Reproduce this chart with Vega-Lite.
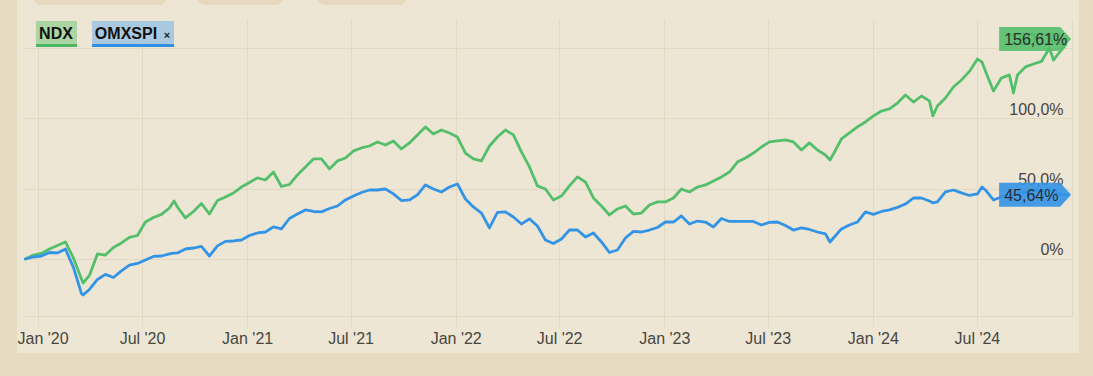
{
  "$schema": "https://vega.github.io/schema/vega-lite/v6.json",
  "width": 1048,
  "height": 296,
  "autosize": {"type": "none"},
  "padding": {"left": 24, "top": 20, "right": 21, "bottom": 60},
  "background": "#eee6d4",
  "config": {
    "view": {"stroke": null},
    "font": "Liberation Sans"
  },
  "datasets": {
    "series": [
      {"d":"2019-12-10","NDX":0,"OMXSPI":0},
      {"d":"2019-12-24","NDX":2.8,"OMXSPI":1.4},
      {"d":"2020-01-07","NDX":3.9,"OMXSPI":2.1},
      {"d":"2020-01-21","NDX":7.1,"OMXSPI":4.6},
      {"d":"2020-02-04","NDX":9.6,"OMXSPI":4.3},
      {"d":"2020-02-18","NDX":12.1,"OMXSPI":7.1},
      {"d":"2020-03-03","NDX":0.7,"OMXSPI":-6.0},
      {"d":"2020-03-17","NDX":-14.2,"OMXSPI":-24.6},
      {"d":"2020-03-20","NDX":-17.1,"OMXSPI":-25.6},
      {"d":"2020-03-31","NDX":-11.7,"OMXSPI":-21.7},
      {"d":"2020-04-14","NDX":3.6,"OMXSPI":-14.6},
      {"d":"2020-04-28","NDX":2.8,"OMXSPI":-11.0},
      {"d":"2020-05-12","NDX":8.2,"OMXSPI":-13.2},
      {"d":"2020-05-26","NDX":11.4,"OMXSPI":-8.5},
      {"d":"2020-06-09","NDX":15.3,"OMXSPI":-4.3},
      {"d":"2020-06-23","NDX":16.7,"OMXSPI":-3.2},
      {"d":"2020-07-07","NDX":26.3,"OMXSPI":-0.7},
      {"d":"2020-07-21","NDX":29.5,"OMXSPI":1.8},
      {"d":"2020-08-04","NDX":31.7,"OMXSPI":2.1},
      {"d":"2020-08-18","NDX":36.3,"OMXSPI":3.6},
      {"d":"2020-08-26","NDX":41.3,"OMXSPI":4.1},
      {"d":"2020-09-01","NDX":37.0,"OMXSPI":4.3},
      {"d":"2020-09-15","NDX":29.2,"OMXSPI":7.1},
      {"d":"2020-09-29","NDX":33.8,"OMXSPI":7.8},
      {"d":"2020-10-13","NDX":39.5,"OMXSPI":8.9},
      {"d":"2020-10-27","NDX":32.0,"OMXSPI":2.1},
      {"d":"2020-11-10","NDX":41.6,"OMXSPI":9.3},
      {"d":"2020-11-24","NDX":44.1,"OMXSPI":12.5},
      {"d":"2020-12-08","NDX":47.0,"OMXSPI":12.8},
      {"d":"2020-12-22","NDX":51.2,"OMXSPI":13.5},
      {"d":"2021-01-05","NDX":54.4,"OMXSPI":16.7},
      {"d":"2021-01-19","NDX":57.7,"OMXSPI":18.5},
      {"d":"2021-02-02","NDX":56.2,"OMXSPI":19.2},
      {"d":"2021-02-16","NDX":61.9,"OMXSPI":22.8},
      {"d":"2021-03-02","NDX":51.6,"OMXSPI":21.4},
      {"d":"2021-03-16","NDX":53.0,"OMXSPI":28.8},
      {"d":"2021-03-30","NDX":59.8,"OMXSPI":32.0},
      {"d":"2021-04-13","NDX":65.5,"OMXSPI":34.9},
      {"d":"2021-04-27","NDX":71.2,"OMXSPI":33.8},
      {"d":"2021-05-11","NDX":71.2,"OMXSPI":33.5},
      {"d":"2021-05-25","NDX":64.1,"OMXSPI":35.9},
      {"d":"2021-06-08","NDX":69.8,"OMXSPI":37.7},
      {"d":"2021-06-22","NDX":71.9,"OMXSPI":42.0},
      {"d":"2021-07-06","NDX":76.9,"OMXSPI":44.8},
      {"d":"2021-07-20","NDX":79.0,"OMXSPI":47.3},
      {"d":"2021-08-03","NDX":80.4,"OMXSPI":49.1},
      {"d":"2021-08-17","NDX":83.3,"OMXSPI":49.1},
      {"d":"2021-08-31","NDX":81.1,"OMXSPI":49.8},
      {"d":"2021-09-14","NDX":84.0,"OMXSPI":46.3},
      {"d":"2021-09-28","NDX":78.3,"OMXSPI":41.6},
      {"d":"2021-10-12","NDX":82.6,"OMXSPI":42.0},
      {"d":"2021-10-26","NDX":88.3,"OMXSPI":45.6},
      {"d":"2021-11-09","NDX":94.0,"OMXSPI":52.7},
      {"d":"2021-11-23","NDX":89.0,"OMXSPI":49.8},
      {"d":"2021-12-07","NDX":91.8,"OMXSPI":47.7},
      {"d":"2021-12-21","NDX":89.7,"OMXSPI":51.2},
      {"d":"2022-01-04","NDX":86.8,"OMXSPI":53.4},
      {"d":"2022-01-18","NDX":75.4,"OMXSPI":42.7},
      {"d":"2022-02-01","NDX":71.2,"OMXSPI":37.0},
      {"d":"2022-02-15","NDX":69.8,"OMXSPI":32.7},
      {"d":"2022-03-01","NDX":80.4,"OMXSPI":22.1},
      {"d":"2022-03-15","NDX":86.8,"OMXSPI":33.1},
      {"d":"2022-03-29","NDX":91.8,"OMXSPI":33.5},
      {"d":"2022-04-12","NDX":88.3,"OMXSPI":29.9},
      {"d":"2022-04-26","NDX":76.2,"OMXSPI":24.9},
      {"d":"2022-05-10","NDX":65.5,"OMXSPI":28.5},
      {"d":"2022-05-24","NDX":52.0,"OMXSPI":23.5},
      {"d":"2022-06-07","NDX":49.8,"OMXSPI":13.5},
      {"d":"2022-06-21","NDX":42.0,"OMXSPI":11.0},
      {"d":"2022-07-05","NDX":44.8,"OMXSPI":14.2},
      {"d":"2022-07-19","NDX":52.0,"OMXSPI":20.6},
      {"d":"2022-08-02","NDX":58.4,"OMXSPI":20.6},
      {"d":"2022-08-16","NDX":54.8,"OMXSPI":15.7},
      {"d":"2022-08-30","NDX":43.4,"OMXSPI":18.5},
      {"d":"2022-09-13","NDX":37.7,"OMXSPI":12.1},
      {"d":"2022-09-27","NDX":31.3,"OMXSPI":4.6},
      {"d":"2022-10-11","NDX":35.6,"OMXSPI":6.4},
      {"d":"2022-10-25","NDX":37.7,"OMXSPI":14.9},
      {"d":"2022-11-08","NDX":32.0,"OMXSPI":19.6},
      {"d":"2022-11-22","NDX":32.7,"OMXSPI":19.2},
      {"d":"2022-12-06","NDX":38.4,"OMXSPI":20.6},
      {"d":"2022-12-20","NDX":40.6,"OMXSPI":22.4},
      {"d":"2023-01-03","NDX":40.6,"OMXSPI":26.3},
      {"d":"2023-01-17","NDX":43.4,"OMXSPI":26.3},
      {"d":"2023-01-31","NDX":49.8,"OMXSPI":30.6},
      {"d":"2023-02-14","NDX":47.7,"OMXSPI":24.9},
      {"d":"2023-02-28","NDX":51.2,"OMXSPI":27.0},
      {"d":"2023-03-14","NDX":52.7,"OMXSPI":26.3},
      {"d":"2023-03-28","NDX":55.5,"OMXSPI":22.8},
      {"d":"2023-04-11","NDX":58.4,"OMXSPI":28.8},
      {"d":"2023-04-25","NDX":61.9,"OMXSPI":26.7},
      {"d":"2023-05-09","NDX":69.0,"OMXSPI":26.7},
      {"d":"2023-05-23","NDX":71.9,"OMXSPI":26.7},
      {"d":"2023-06-06","NDX":75.4,"OMXSPI":26.7},
      {"d":"2023-06-20","NDX":79.7,"OMXSPI":24.2},
      {"d":"2023-07-04","NDX":83.3,"OMXSPI":26.0},
      {"d":"2023-07-18","NDX":84.0,"OMXSPI":26.3},
      {"d":"2023-08-01","NDX":84.7,"OMXSPI":23.8},
      {"d":"2023-08-15","NDX":83.3,"OMXSPI":20.6},
      {"d":"2023-08-29","NDX":77.6,"OMXSPI":22.1},
      {"d":"2023-09-12","NDX":82.6,"OMXSPI":21.0},
      {"d":"2023-09-26","NDX":77.6,"OMXSPI":19.2},
      {"d":"2023-10-10","NDX":74.0,"OMXSPI":17.8},
      {"d":"2023-10-18","NDX":70.5,"OMXSPI":12.1},
      {"d":"2023-10-24","NDX":74.7,"OMXSPI":14.9},
      {"d":"2023-11-07","NDX":85.4,"OMXSPI":21.4},
      {"d":"2023-11-21","NDX":89.7,"OMXSPI":24.2},
      {"d":"2023-12-05","NDX":94.0,"OMXSPI":26.3},
      {"d":"2023-12-19","NDX":97.5,"OMXSPI":33.5},
      {"d":"2024-01-02","NDX":101.8,"OMXSPI":31.7},
      {"d":"2024-01-16","NDX":105.3,"OMXSPI":33.8},
      {"d":"2024-01-30","NDX":106.8,"OMXSPI":34.9},
      {"d":"2024-02-13","NDX":111.0,"OMXSPI":36.7},
      {"d":"2024-02-27","NDX":116.7,"OMXSPI":39.1},
      {"d":"2024-03-12","NDX":111.7,"OMXSPI":43.4},
      {"d":"2024-03-26","NDX":116.0,"OMXSPI":43.4},
      {"d":"2024-04-09","NDX":112.5,"OMXSPI":41.3},
      {"d":"2024-04-15","NDX":101.8,"OMXSPI":39.9},
      {"d":"2024-04-23","NDX":108.9,"OMXSPI":40.6},
      {"d":"2024-05-07","NDX":114.6,"OMXSPI":47.7},
      {"d":"2024-05-21","NDX":122.4,"OMXSPI":49.1},
      {"d":"2024-06-04","NDX":127.4,"OMXSPI":47.0},
      {"d":"2024-06-18","NDX":133.5,"OMXSPI":45.2},
      {"d":"2024-07-02","NDX":142.3,"OMXSPI":46.3},
      {"d":"2024-07-10","NDX":140.2,"OMXSPI":51.2},
      {"d":"2024-07-16","NDX":133.8,"OMXSPI":49.1},
      {"d":"2024-07-30","NDX":119.6,"OMXSPI":42.0},
      {"d":"2024-08-13","NDX":128.8,"OMXSPI":44.1},
      {"d":"2024-08-27","NDX":131.0,"OMXSPI":45.6},
      {"d":"2024-09-03","NDX":118.1,"OMXSPI":45.8},
      {"d":"2024-09-10","NDX":131.0,"OMXSPI":46.3},
      {"d":"2024-09-24","NDX":136.7,"OMXSPI":47.7},
      {"d":"2024-10-08","NDX":138.8,"OMXSPI":49.1},
      {"d":"2024-10-22","NDX":140.6,"OMXSPI":48.4},
      {"d":"2024-11-05","NDX":150.2,"OMXSPI":49.8},
      {"d":"2024-11-12","NDX":141.6,"OMXSPI":48.0},
      {"d":"2024-11-19","NDX":145.2,"OMXSPI":46.3},
      {"d":"2024-12-03","NDX":152.3,"OMXSPI":45.6},
      {"d":"2024-12-06","NDX":156.61,"OMXSPI":45.64}
    ],
    "last": [
      {"d":"2024-12-06","s":"NDX","v":156.61,"lab":"156,61%"},
      {"d":"2024-12-06","s":"OMXSPI","v":45.64,"lab":"45,64%"}
    ],
    "one": [{}]
  },
  "layer": [
    {
      "data": {"name": "one"},
      "mark": {"type": "rect", "clip": false, "color": "#e7dbc1"},
      "encoding": {
        "x": {"datum": {"year": 2019, "month": 6, "date": 1, "utc": true}, "type": "temporal"},
        "x2": {"datum": {"year": 2019, "month": 11, "date": 25, "hours": 6, "utc": true}},
        "y": {"datum": -200, "type": "quantitative"},
        "y2": {"datum": 300}
      }
    },
    {
      "data": {"name": "one"},
      "mark": {"type": "rect", "clip": false, "color": "#e7dbc1"},
      "encoding": {
        "x": {"datum": {"year": 2024, "month": 12, "date": 26, "hours": 18, "utc": true}, "type": "temporal"},
        "x2": {"datum": {"year": 2025, "month": 6, "date": 1, "utc": true}},
        "y": {"datum": -200, "type": "quantitative"},
        "y2": {"datum": 300}
      }
    },
    {
      "data": {"name": "one"},
      "mark": {"type": "rect", "clip": false, "color": "#e7dbc1"},
      "encoding": {
        "x": {"datum": {"year": 2019, "month": 6, "date": 1, "utc": true}, "type": "temporal"},
        "x2": {"datum": {"year": 2025, "month": 6, "date": 1, "utc": true}},
        "y": {"datum": -66.9, "type": "quantitative"},
        "y2": {"datum": -200}
      }
    },
    {
      "data": {"name": "one"},
      "mark": {"type": "rect", "clip": false, "color": "#e6d9be", "cornerRadius": 8},
      "encoding": {
        "x": {"datum": {"year": 2019, "month": 12, "date": 23, "hours": 6, "utc": true}, "type": "temporal"},
        "x2": {"datum": {"year": 2020, "month": 8, "date": 13, "hours": 18, "utc": true}},
        "y": {"datum": 180.8, "type": "quantitative"},
        "y2": {"datum": 230}
      }
    },
    {
      "data": {"name": "one"},
      "mark": {"type": "rect", "clip": false, "color": "#e6d9be", "cornerRadius": 8},
      "encoding": {
        "x": {"datum": {"year": 2020, "month": 10, "date": 5, "hours": 6, "utc": true}, "type": "temporal"},
        "x2": {"datum": {"year": 2021, "month": 3, "date": 5, "hours": 18, "utc": true}},
        "y": {"datum": 180.8, "type": "quantitative"},
        "y2": {"datum": 230}
      }
    },
    {
      "data": {"name": "one"},
      "mark": {"type": "rect", "clip": false, "color": "#e6d9be", "cornerRadius": 8},
      "encoding": {
        "x": {"datum": {"year": 2021, "month": 5, "date": 3, "hours": 6, "utc": true}, "type": "temporal"},
        "x2": {"datum": {"year": 2021, "month": 10, "date": 7, "hours": 18, "utc": true}},
        "y": {"datum": 180.8, "type": "quantitative"},
        "y2": {"datum": 230}
      }
    },
    {
      "data": {"name": "series"},
      "transform": [{"fold": ["NDX", "OMXSPI"], "as": ["s", "v"]}],
      "mark": {"type": "line", "strokeWidth": 2.8, "strokeJoin": "round", "strokeCap": "round"},
      "encoding": {
        "x": {
          "field": "d", "type": "temporal",
          "scale": {"type": "utc", "domain": [{"year": 2019, "month": 12, "date": 7, "hours": 12, "utc": true}, {"year": 2024, "month": 12, "date": 14, "hours": 12, "utc": true}]},
          "axis": {
            "title": null,
            "values": [
              {"year": 2020, "month": 1, "date": 1, "utc": true},
              {"year": 2020, "month": 7, "date": 1, "utc": true},
              {"year": 2021, "month": 1, "date": 1, "utc": true},
              {"year": 2021, "month": 7, "date": 1, "utc": true},
              {"year": 2022, "month": 1, "date": 1, "utc": true},
              {"year": 2022, "month": 7, "date": 1, "utc": true},
              {"year": 2023, "month": 1, "date": 1, "utc": true},
              {"year": 2023, "month": 7, "date": 1, "utc": true},
              {"year": 2024, "month": 1, "date": 1, "utc": true},
              {"year": 2024, "month": 7, "date": 1, "utc": true}
            ],
            "format": "%b '%y",
            "labelFont": "Liberation Sans",
            "labelFontSize": 16,
            "labelColor": "#474541",
            "labelPadding": 4,
            "labelFlush": 20,
            "labelFlushOffset": 21,
            "labelOverlap": false,
            "grid": true,
            "gridColor": "#e3d8c0",
            "gridWidth": 1,
            "domainColor": "#e3d8c0",
            "domainWidth": 1,
            "tickColor": "#e3d8c0",
            "tickSize": 10,
            "tickWidth": 1
          }
        },
        "y": {
          "field": "v", "type": "quantitative",
          "scale": {"domain": [-40.6, 170.1], "nice": false, "zero": false},
          "axis": {
            "title": null,
            "orient": "right",
            "values": [0, 50, 100, 150],
            "labelExpr": "datum.value == 0 ? '0%' : replace(format(datum.value, '.1f'), '.', ',') + '%'",
            "labelFont": "Liberation Sans",
            "labelFontSize": 16,
            "labelColor": "#474541",
            "labelAlign": "right",
            "labelBaseline": "alphabetic",
            "labelPadding": -9,
            "labelOffset": -4,
            "ticks": false,
            "tickSize": 0,
            "grid": true,
            "gridColor": "#e3d8c0",
            "gridWidth": 1,
            "domainColor": "#e3d8c0",
            "domainWidth": 1
          }
        },
        "color": {
          "field": "s", "type": "nominal",
          "scale": {"domain": ["NDX", "OMXSPI"], "range": ["#54bf6b", "#3394e6"]},
          "legend": null
        }
      }
    },
    {
      "data": {"name": "one"},
      "mark": {"type": "rect", "clip": false, "color": "#abd6a3"},
      "encoding": {
        "x": {"datum": {"year": 2019, "month": 12, "date": 28, "hours": 12, "utc": true}, "type": "temporal"},
        "x2": {"datum": {"year": 2020, "month": 3, "date": 9, "hours": 6, "utc": true}},
        "y": {"datum": 169.4, "type": "quantitative"},
        "y2": {"datum": 153.0}
      }
    },
    {
      "data": {"name": "one"},
      "mark": {"type": "rect", "clip": false, "color": "#4db863"},
      "encoding": {
        "x": {"datum": {"year": 2019, "month": 12, "date": 28, "hours": 12, "utc": true}, "type": "temporal"},
        "x2": {"datum": {"year": 2020, "month": 3, "date": 9, "hours": 6, "utc": true}},
        "y": {"datum": 153.0, "type": "quantitative"},
        "y2": {"datum": 150.9}
      }
    },
    {
      "data": {"name": "one"},
      "mark": {"type": "rect", "clip": false, "color": "#a9c9e0"},
      "encoding": {
        "x": {"datum": {"year": 2020, "month": 4, "date": 4, "hours": 12, "utc": true}, "type": "temporal"},
        "x2": {"datum": {"year": 2020, "month": 8, "date": 26, "utc": true}},
        "y": {"datum": 169.4, "type": "quantitative"},
        "y2": {"datum": 153.0}
      }
    },
    {
      "data": {"name": "one"},
      "mark": {"type": "rect", "clip": false, "color": "#2f8fe3"},
      "encoding": {
        "x": {"datum": {"year": 2020, "month": 4, "date": 4, "hours": 12, "utc": true}, "type": "temporal"},
        "x2": {"datum": {"year": 2020, "month": 8, "date": 26, "utc": true}},
        "y": {"datum": 153.0, "type": "quantitative"},
        "y2": {"datum": 150.9}
      }
    },
    {
      "data": {"name": "one"},
      "mark": {"type": "text", "clip": false, "align": "center", "baseline": "alphabetic", "font": "Liberation Sans", "fontSize": 16, "fontWeight": "bold", "color": "#111111"},
      "encoding": {
        "x": {"datum": {"year": 2020, "month": 2, "date": 1, "hours": 12, "utc": true}, "type": "temporal"},
        "y": {"datum": 156.6, "type": "quantitative"},
        "text": {"value": "NDX"}
      }
    },
    {
      "data": {"name": "one"},
      "mark": {"type": "text", "clip": false, "align": "left", "baseline": "alphabetic", "font": "Liberation Sans", "fontSize": 16, "fontWeight": "bold", "color": "#111111"},
      "encoding": {
        "x": {"datum": {"year": 2020, "month": 4, "date": 9, "hours": 12, "utc": true}, "type": "temporal"},
        "y": {"datum": 156.6, "type": "quantitative"},
        "text": {"value": "OMXSPI"}
      }
    },
    {
      "data": {"name": "one"},
      "mark": {"type": "text", "clip": false, "align": "center", "baseline": "alphabetic", "font": "Liberation Sans", "fontSize": 11, "fontWeight": "bold", "color": "#222222"},
      "encoding": {
        "x": {"datum": {"year": 2020, "month": 8, "date": 13, "hours": 18, "utc": true}, "type": "temporal"},
        "y": {"datum": 156.6, "type": "quantitative"},
        "text": {"value": "×"}
      }
    },
    {
      "data": {"name": "last"},
      "mark": {"type": "point", "clip": false, "filled": true, "opacity": 0.9, "strokeWidth": 0, "size": 6400, "shape": "M-1.7,-0.3L-0.175,-0.3L0.1,0L-0.175,0.3L-1.7,0.3Z"},
      "encoding": {
        "x": {"field": "d", "type": "temporal"},
        "y": {"field": "v", "type": "quantitative"},
        "color": {"field": "s", "type": "nominal", "legend": null}
      }
    },
    {
      "data": {"name": "last"},
      "mark": {"type": "text", "clip": false, "align": "left", "baseline": "middle", "dx": -63, "dy": 1, "font": "Liberation Sans", "fontSize": 16, "color": "#222222", "opacity": 0.9},
      "encoding": {
        "x": {"field": "d", "type": "temporal"},
        "y": {"field": "v", "type": "quantitative"},
        "text": {"field": "lab"}
      }
    }
  ]
}
